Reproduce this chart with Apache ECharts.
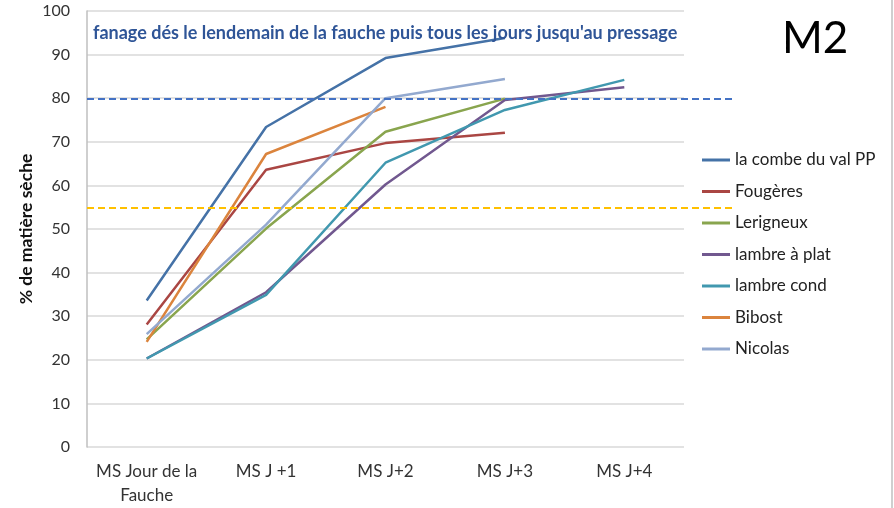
<!DOCTYPE html>
<html><head><meta charset="utf-8">
<script src="https://cdn.jsdelivr.net/npm/echarts@6/dist/echarts.min.js"></script>
<style>html,body{margin:0;padding:0;background:#fff}#c{width:894px;height:508px}</style>
</head><body><div id="c"></div>
<script>
const categories = ['MS Jour de la\nFauche', 'MS J +1', 'MS J+2', 'MS J+3', 'MS J+4'];
const seriesNames = ['la combe du val PP', 'Fougères', 'Lerigneux', 'lambre à plat', 'lambre cond', 'Bibost', 'Nicolas'];
const laCombe = [33.6, 73.4, 89.2, 93.8, null];
const fougeres = [28.1, 63.6, 69.7, 72.1, null];
const lerigneux = [24.7, 50.1, 72.3, 79.9, null];
const lambrePlat = [20.3, 35.5, 60.2, 79.6, 82.5];
const lambreCond = [20.3, 34.9, 65.2, 77.3, 84.2];
const bibost = [24.1, 67.2, 78.0, null, null];
const nicolas = [25.9, 51.0, 80.0, 84.4, null];
const seriesValues = [laCombe, fougeres, lerigneux, lambrePlat, lambreCond, bibost, nicolas];
const colors = ['#4572A7', '#AA4643', '#89A54E', '#71588F', '#4198AF', '#DB843D', '#93A9CF'];
const refLines = [80, 55];
const refColors = ['#4472C4', '#FFC000'];
const yTicks = [0, 100, 10];
const titleText = "fanage dés le lendemain de la fauche puis tous les jours jusqu'au pressage";
const yName = '% de matière sèche';
const tag = 'M2';

const font = 'Lato';
const chart = echarts.init(document.getElementById('c'), null, {renderer: 'canvas'});
const series = seriesNames.map((n, i) => ({
  name: n, type: 'line', data: seriesValues[i], showSymbol: false, symbol: 'none',
  connectNulls: false, lineStyle: {width: 2.5, color: colors[i]}, itemStyle: {color: colors[i]},
  xAxisIndex: 0, yAxisIndex: 0, z: 3
}));
series.push({
  type: 'line', data: [], xAxisIndex: 1, yAxisIndex: 1, silent: true, z: 2,
  markLine: {
    silent: true, symbol: 'none', label: {show: false},
    data: refLines.map((v, i) => ({yAxis: v, lineStyle: {color: refColors[i], type: [7, 4], width: 2}}))
  }
});
chart.setOption({
  animation: false,
  backgroundColor: '#fff',
  textStyle: {fontFamily: font},
  title: [
    {text: titleText, left: 88, top: 19, textStyle: {fontFamily: font, fontSize: 18, fontWeight: 'bold', color: '#2F5597'}},
    {text: tag, left: 777, top: 12, textStyle: {fontFamily: font, fontSize: 44, fontWeight: 'normal', color: '#000'}}
  ],
  legend: {
    orient: 'vertical', left: 697, top: 146, icon: 'rect', itemWidth: 28, itemHeight: 3,
    itemGap: 13.5, data: seriesNames,
    textStyle: {fontFamily: font, fontSize: 17, color: '#222', lineHeight: 18}
  },
  grid: [
    {left: 87, right: 210, top: 11, bottom: 60, containLabel: false},
    {left: 87, right: 161, top: 11, bottom: 60, containLabel: false}
  ],
  xAxis: [
    {type: 'category', data: categories, gridIndex: 0, boundaryGap: true,
     axisLine: {show: false}, axisTick: {show: false},
     axisLabel: {fontFamily: font, fontSize: 17, color: '#333', margin: 13, lineHeight: 24, interval: 0}},
    {type: 'value', gridIndex: 1, min: 0, max: 1, show: false}
  ],
  yAxis: [
    {type: 'value', gridIndex: 0, min: yTicks[0], max: yTicks[1], interval: yTicks[2],
     name: yName, nameLocation: 'middle', nameRotate: 90, nameGap: 52, nameMoveOverlap: false,
     nameTextStyle: {fontFamily: font, fontSize: 17.5, fontWeight: 'bold', color: '#111'},
     axisLine: {show: true, lineStyle: {color: '#bfbfbf', width: 1.5}}, axisTick: {show: false},
     axisLabel: {fontFamily: font, fontSize: 16, color: '#333', margin: 17},
     splitLine: {lineStyle: {color: '#d9d9d9', width: 1.5}}},
    {type: 'value', gridIndex: 1, min: yTicks[0], max: yTicks[1], show: false}
  ],
  graphic: [{type: 'line', shape: {x1: 892, y1: 0, x2: 892, y2: 508}, style: {stroke: '#bfbfbf', lineWidth: 1.5}}],
  series: series
});
</script></body></html>
